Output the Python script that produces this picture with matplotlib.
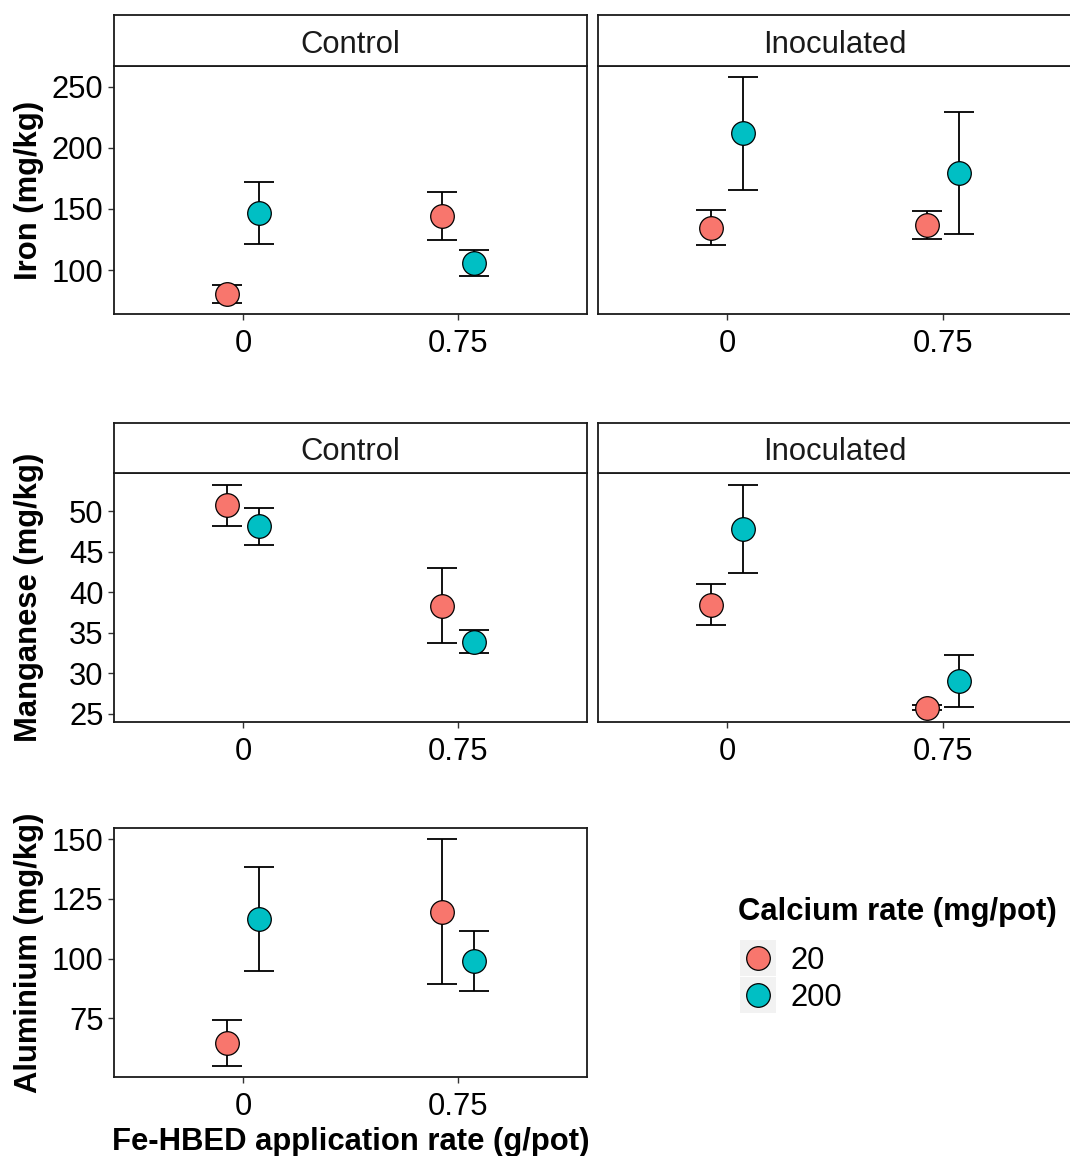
import matplotlib
matplotlib.use("Agg")
import matplotlib.pyplot as plt
from matplotlib.patches import Rectangle

plt.rcParams['font.family'] = ['Liberation Sans', 'DejaVu Sans']

# ---- data -------------------------------------------------------------
fe_rates = ["0", "0.75"]
calcium_rates = ["20", "200"]
treatments = ["Control", "Inoculated"]
ca_colors = ["#F8766D", "#00BFC4"]

# Iron (mg/kg): mean and standard error, per calcium rate, by Fe-HBED rate
iron_control_mean = [[80.7, 144.2], [147.0, 105.5]]
iron_control_se = [[7.3, 19.9], [25.3, 10.8]]
iron_inoc_mean = [[134.6, 136.9], [211.8, 179.7]]
iron_inoc_se = [[14.2, 11.3], [46.2, 49.9]]

# Manganese (mg/kg)
mn_control_mean = [[50.72, 38.32], [48.09, 33.88]]
mn_control_se = [[2.53, 4.65], [2.33, 1.44]]
mn_inoc_mean = [[38.43, 25.75], [47.80, 29.07]]
mn_inoc_se = [[2.53, 0.30], [5.45, 3.21]]

# Aluminium (mg/kg)
al_mean = [[64.75, 119.75], [116.55, 99.1]]
al_se = [[9.55, 30.25], [21.75, 12.6]]

iron_ticks = [100, 150, 200, 250]
mn_ticks = [25, 30, 35, 40, 45, 50]
al_ticks = [75, 100, 125, 150]

# ---- layout helpers ---------------------------------------------------
W, H = 1070, 1156
fig = plt.figure(figsize=(W / 100, H / 100), dpi=100)

FS = 22.3
DODGE = 0.075
BORDER = "#1a1a1a"
YLABEL_X = 44  # pixel column where the y-axis titles end


def px_axes(x0, y0, x1, y1):
    """Axes from pixel box (top-left origin)."""
    return fig.add_axes([x0 / W, 1 - y1 / H, (x1 - x0) / W, (y1 - y0) / H])


def add_strip(x0, y0, x1, y1, label):
    sa = px_axes(x0, y0, x1, y1)
    sa.set_xticks([])
    sa.set_yticks([])
    for s in sa.spines.values():
        s.set_linewidth(1.3)
        s.set_color(BORDER)
    sa.text(0.5, 0.42, label, ha="center", va="center", fontsize=FS,
            color="#1a1a1a", transform=sa.transAxes)
    return sa


def set_ytitle(ax, text):
    ax.set_ylabel(text, fontsize=FS, fontweight="bold")
    _, y = ax.transAxes.transform((0, 0.5))
    ax.yaxis.set_label_coords(YLABEL_X / W, y / H, transform=fig.transFigure)


def draw_panel(ax, means, ses, ylim, yticks, show_y):
    for i, (m, s, c) in enumerate(zip(means, ses, ca_colors)):
        xs = [k + (-DODGE if i == 0 else DODGE) for k in range(len(fe_rates))]
        ax.errorbar(xs, m, yerr=s, fmt="none", ecolor="black",
                    elinewidth=1.3, capsize=11, capthick=1.3, zorder=2)
        ax.plot(xs, m, "o", ms=17, mfc=c, mec="black", mew=0.9,
                zorder=3, linestyle="none")
    ax.set_xlim(-0.6, 1.6)
    ax.set_ylim(*ylim)
    ax.set_xticks(range(len(fe_rates)))
    ax.set_xticklabels(fe_rates)
    ax.tick_params(axis="x", length=4.5, width=1.0, color="#333333",
                   labelsize=FS, pad=6, labelcolor="black")
    if show_y:
        ax.set_yticks(yticks)
        ax.tick_params(axis="y", length=4.5, width=1.0, color="#333333",
                       labelsize=FS, pad=3, labelcolor="black")
    else:
        ax.set_yticks([])
    for s in ax.spines.values():
        s.set_linewidth(1.3)
        s.set_color(BORDER)


LX0, LX1 = 114, 587
RX0, RX1 = 598, 1072

# Row 1: iron
ax = px_axes(LX0, 66, LX1, 314)
draw_panel(ax, iron_control_mean, iron_control_se, (64, 267), iron_ticks, True)
set_ytitle(ax, "Iron (mg/kg)")
add_strip(LX0, 15, LX1, 66, treatments[0])
ax = px_axes(RX0, 66, RX1, 314)
draw_panel(ax, iron_inoc_mean, iron_inoc_se, (64, 267), iron_ticks, False)
add_strip(RX0, 15, RX1, 66, treatments[1])

# Row 2: manganese
ax = px_axes(LX0, 473, LX1, 722)
draw_panel(ax, mn_control_mean, mn_control_se, (23.97, 54.69), mn_ticks, True)
set_ytitle(ax, "Manganese (mg/kg)")
add_strip(LX0, 423, LX1, 473, treatments[0])
ax = px_axes(RX0, 473, RX1, 722)
draw_panel(ax, mn_inoc_mean, mn_inoc_se, (23.97, 54.69), mn_ticks, False)
add_strip(RX0, 423, RX1, 473, treatments[1])

# Row 3: aluminium
ax = px_axes(LX0, 828, LX1, 1077)
draw_panel(ax, al_mean, al_se, (50.5, 154.7), al_ticks, True)
set_ytitle(ax, "Aluminium (mg/kg)")
ax.set_xlabel("Fe-HBED application rate (g/pot)", fontsize=FS,
              fontweight="bold", labelpad=4)

# Legend
lg = px_axes(730, 885, 1070, 1020)
lg.set_xlim(0, 340)
lg.set_ylim(135, 0)
lg.axis("off")
lg.text(8, 27, "Calcium rate (mg/pot)", fontsize=FS, fontweight="bold",
        ha="left", va="center")
for i, (lab, c) in enumerate(zip(calcium_rates, ca_colors)):
    top = 55 + i * 37
    lg.add_patch(Rectangle((10, top), 36, 36, facecolor="#F2F2F2",
                           edgecolor="none"))
    lg.plot([28], [top + 18], "o", ms=17, mfc=c, mec="black", mew=0.9)
    lg.text(61, top + 21, lab, fontsize=FS, ha="left", va="center")

fig.savefig("out.png", dpi=100)
